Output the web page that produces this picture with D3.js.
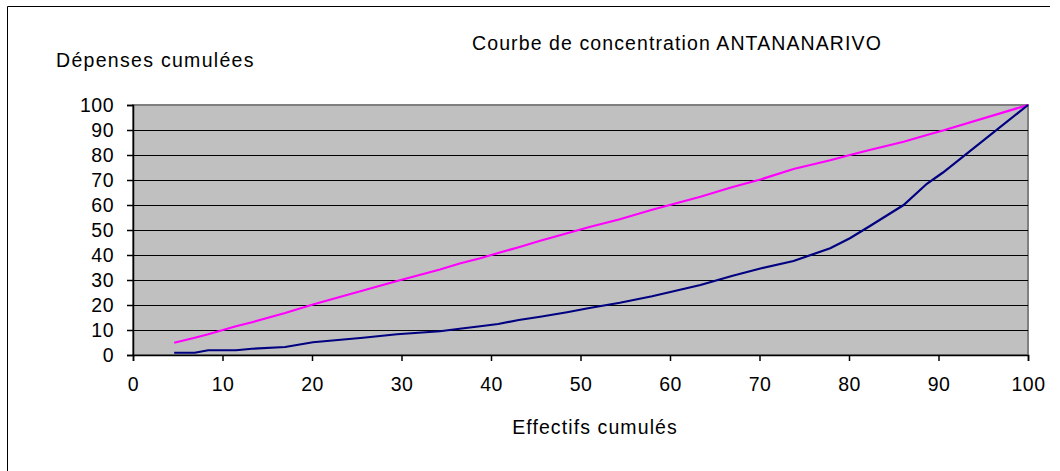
<!DOCTYPE html>
<html><head><meta charset="utf-8">
<script src="https://cdn.jsdelivr.net/npm/d3@7"></script>
<style>
html,body{margin:0;padding:0;background:#fff;}
text{font-family:"Liberation Sans",Arial,sans-serif;fill:#000;}
</style></head>
<body><svg id="c" width="1060" height="471"></svg>
<script>
const effectifs = [4.6, 6.9, 8.4, 11.5, 13.3, 17.0, 20.1, 25.7, 29.5, 34.3, 36.5, 38.8, 40.8, 43.1, 45.5, 48.5, 51.0, 54.4, 58.0, 63.4, 66.9, 70.1, 73.8, 77.9, 80.1, 82.3, 86.1, 88.7, 90.5, 100];
const population = [4.9, 6.9, 8.3, 11.5, 13.1, 16.8, 20.2, 25.8, 29.6, 34.2, 36.6, 38.7, 40.8, 43.1, 45.7, 48.7, 51.2, 54.3, 58.1, 63.3, 67.1, 70.2, 74.4, 77.9, 80.0, 82.0, 85.3, 88.0, 89.8, 100];
const depenses = [0.9, 0.9, 1.9, 1.9, 2.5, 3.2, 5.1, 6.9, 8.3, 9.5, 10.5, 11.5, 12.4, 14.0, 15.3, 17.1, 18.8, 20.9, 23.5, 28.0, 31.6, 34.6, 37.6, 42.7, 46.7, 51.5, 60.0, 68.5, 73.0, 100];
const xTicks = [0,10,20,30,40,50,60,70,80,90,100];
const yTicks = [0,10,20,30,40,50,60,70,80,90,100];
const title = "Courbe de concentration ANTANANARIVO";
const yLabel = "Dépenses cumulées";
const xLabel = "Effectifs cumulés";

const svg = d3.select("#c");
const L=133, R=1028, T=105, B=355;
const x = d3.scaleLinear().domain([0,100]).range([L,R]);
const y = d3.scaleLinear().domain([0,100]).range([B,T]);

// outer frame (top and left visible)
svg.append("line").attr("x1",7.5).attr("x2",1050).attr("y1",6.5).attr("y2",6.5).attr("stroke","#000");
svg.append("line").attr("x1",7.5).attr("x2",7.5).attr("y1",6.5).attr("y2",471).attr("stroke","#000");

// plot area
svg.append("rect").attr("x",L).attr("y",T).attr("width",R-L).attr("height",B-T)
  .attr("fill","#c0c0c0").attr("stroke","#808080").attr("stroke-width",2);

// gridlines
svg.append("g").selectAll("line").data(yTicks.filter(d=>d>0&&d<100)).join("line")
  .attr("x1",L).attr("x2",R).attr("y1",d=>Math.round(y(d))+0.5).attr("y2",d=>Math.round(y(d))+0.5)
  .attr("stroke","#000").attr("stroke-width",1.2);

const fs = "19.5px";
// axes
const xAxis = d3.axisBottom(x).tickValues(xTicks).tickSize(6).tickPadding(16);
const gx = svg.append("g").attr("transform",`translate(0,${B})`).call(xAxis);
gx.select(".domain").attr("stroke","#000").attr("stroke-width",1.5);
gx.selectAll(".tick line").attr("stroke","#000").attr("stroke-width",1.5);
gx.selectAll("text").attr("font-size",fs).attr("letter-spacing","0.5px").attr("font-family","Liberation Sans, Arial, sans-serif").attr("fill","#000");

const yAxis = d3.axisLeft(y).tickValues(yTicks).tickSize(6).tickPadding(13);
const gy = svg.append("g").attr("transform",`translate(${L},0)`).call(yAxis);
gy.select(".domain").attr("stroke","#000").attr("stroke-width",1.5);
gy.selectAll(".tick line").attr("stroke","#000").attr("stroke-width",1.5);
gy.selectAll("text").attr("font-size",fs).attr("letter-spacing","0.5px").attr("font-family","Liberation Sans, Arial, sans-serif").attr("fill","#000");
svg.selectAll(".domain").raise();

// lines
const line = (ys)=>d3.line().x((d,i)=>x(effectifs[i])).y(d=>y(d))(ys);
svg.append("path").attr("d",line(population)).attr("fill","none").attr("stroke","#ff00ff").attr("stroke-width",2.2);
svg.append("path").attr("d",line(depenses)).attr("fill","none").attr("stroke","#000080").attr("stroke-width",2.2);

// texts
svg.append("text").attr("x",677).attr("y",50).attr("text-anchor","middle").attr("font-size",fs).attr("letter-spacing","1.1px").text(title);
svg.append("text").attr("x",56).attr("y",67).attr("font-size",fs).attr("letter-spacing","1.3px").text(yLabel);
svg.append("text").attr("x",595).attr("y",434).attr("text-anchor","middle").attr("font-size",fs).attr("letter-spacing","1.1px").text(xLabel);
</script></body></html>
